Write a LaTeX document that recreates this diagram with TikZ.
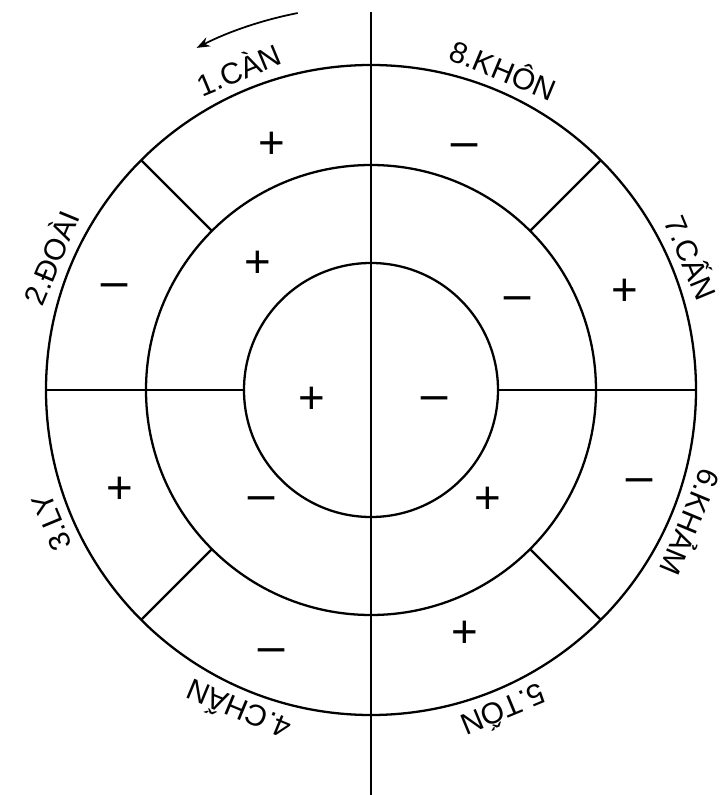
\documentclass[tikz,border=0pt]{standalone}
\usepackage{fontspec}
\setmainfont{Liberation Sans}
\usetikzlibrary{arrows.meta}

\begin{document}
\begin{tikzpicture}[line width=1.3pt, >=Stealth,
        ring/.style={circle, draw, inner sep=0, outer sep=0},
        lbl/.style={font=\fontsize{17}{19}\selectfont, anchor=base, inner sep=0},
        sgn/.style={font=\fontsize{26}{26}\selectfont, inner sep=0,
            text height=18pt, text depth=0pt},
        neg/.style={sgn, xscale=1.2},
        turn/.style={->, line width=1pt}]
        \useasboundingbox (-7.42,-8.1) rectangle (7.12,7.8);
        % rings
        \node[ring, minimum size=13cm] (outer) at (0,0) {};
        \node[ring, minimum size=9cm] (mid) at (0,0) {};
        \node[ring, minimum size=5.08cm] (inner) at (0,0) {};
        \coordinate (top) at (0,7.56);
        \coordinate (bot) at (0,-8.1);
        \draw (top) -- (bot);
        \draw (outer.west) -- (inner.west);
        \draw (inner.east) -- (outer.east);
        \draw (mid.45) -- (outer.45);
        \draw (mid.135) -- (outer.135);
        \draw (mid.225) -- (outer.225);
        \draw (mid.315) -- (outer.315);
        % names
        \node[lbl, rotate=22.5] (can) at (112.5:6.7) {1.CÀN};
        \node[lbl, rotate=67.5] (doai) at (157.5:6.7) {2.ĐOÀI};
        \node[lbl, rotate=-247.5] (ly) at (-157.5:6.7) {3.LY};
        \node[lbl, rotate=-202.5] (chan) at (-112.5:6.7) {4.CHẤN};
        \node[lbl, rotate=-157.5] (ton) at (-67.5:6.7) {5.TỐN};
        \node[lbl, rotate=-112.5] (kham) at (-22.5:6.7) {6.KHẢM};
        \node[lbl, rotate=-67.5] (cann) at (22.5:6.7) {7.CẤN};
        \node[lbl, rotate=-22.5] (khon) at (67.5:6.7) {8.KHÔN};
        % outer ring
        \node[sgn] (o1) at (-1.98,4.94) {+};
        \node[neg] (o8) at (1.88,4.90) {−};
        \node[sgn] (o7) at (5.08,2.0) {+};
        \node[neg] (o6) at (5.38,-1.8) {−};
        \node[sgn] (o5) at (1.88,-4.84) {+};
        \node[neg] (o4) at (-1.98,-5.2) {−};
        \node[sgn] (o3) at (-5.02,-1.96) {+};
        \node[neg] (o2) at (-5.12,2.1) {−};
        % middle ring
        \node[sgn] (m1) at (-2.26,2.56) {+};
        \node[neg] (m2) at (2.94,1.84) {−};
        \node[neg] (m3) at (-2.18,-2.16) {−};
        \node[sgn] (m4) at (2.34,-2.16) {+};
        % centre
        \node[sgn] (c1) at (-1.18,-0.16) {+};
        \node[neg] (c2) at (1.28,-0.16) {−};
        % direction
        \coordinate (arrS) at (101:7.68);
        \draw[turn] (arrS) arc[start angle=101, end angle=117, radius=7.68cm];
    \end{tikzpicture}
\end{document}
